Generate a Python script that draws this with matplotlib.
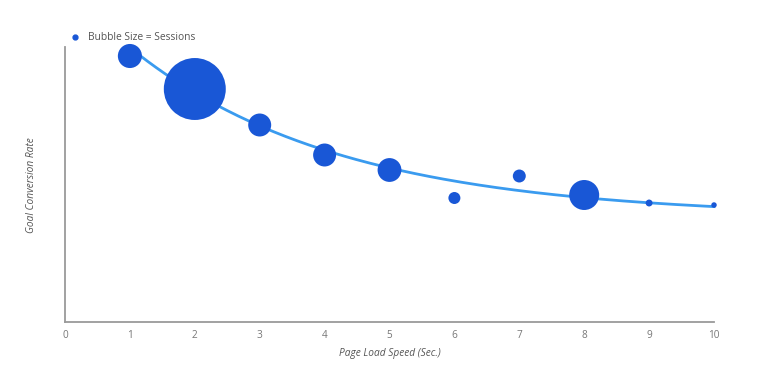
import numpy as np
import matplotlib
matplotlib.use("Agg")
import matplotlib.pyplot as plt

# Data
load_speed = [1, 2, 3, 4, 5, 6, 7, 8, 9, 10]
conversion_rate = [2.66, 2.33, 1.97, 1.67, 1.52, 1.24, 1.46, 1.27, 1.19, 1.17]
sessions = [1450, 9600, 1320, 1320, 1420, 360, 420, 2250, 120, 75]
x_ticks = [0, 1, 2, 3, 4, 5, 6, 7, 8, 9, 10]
# exponential trendline parameters: y = a + b*exp(-c*x)
trend_a, trend_b, trend_c = 1.05, 2.31, 0.31

W, H = 763, 371
fig = plt.figure(figsize=(W / 100, H / 100), dpi=100)
ax = fig.add_axes([65 / W, (H - 322) / H, (714 - 65) / W, (322 - 47) / H])

font = "Open Sans"
dot_color = "#1957d6"
line_color = "#3a9bef"
grey = "#777777"

xs = np.linspace(1, 10, 200)
ax.plot(xs, trend_a + trend_b * np.exp(-trend_c * xs), color=line_color, lw=2.0,
        zorder=2, clip_on=False)

s_scale = 1990 / 9600
ax.scatter(load_speed, conversion_rate, s=np.array(sessions) * s_scale,
           color=dot_color, edgecolors="none", zorder=3, clip_on=False)

ax.set_xlim(0, 10)
ax.set_ylim(0, 2.75)
ax.set_xticks(x_ticks)
ax.set_xticklabels([str(t) for t in x_ticks], fontfamily=font, fontsize=7.2, color=grey)
ax.set_yticks([])
ax.tick_params(axis="x", length=0, pad=6)

for side in ["top", "right"]:
    ax.spines[side].set_visible(False)
for side in ["left", "bottom"]:
    ax.spines[side].set_color("#9a9a9a")
    ax.spines[side].set_linewidth(1.3)

ax.set_xlabel("Page Load Speed (Sec.)", fontfamily=font, fontstyle="italic",
              fontsize=7.3, color="#555555", labelpad=5)
fig.text(32 / W, 1 - 185 / H, "Goal Conversion Rate", rotation=90,
         fontfamily=font, fontstyle="italic", fontsize=7.3, color="#555555",
         ha="center", va="center")

# legend
fig.text(88 / W, 1 - 37 / H, "Bubble Size = Sessions", fontfamily=font,
         fontsize=7.4, color="#555555", ha="left", va="center")
fig.add_artist(matplotlib.lines.Line2D([75 / W], [1 - 37 / H], marker="o",
                                       markersize=3.5, color=dot_color,
                                       transform=fig.transFigure))

fig.savefig("out.png", dpi=100)
